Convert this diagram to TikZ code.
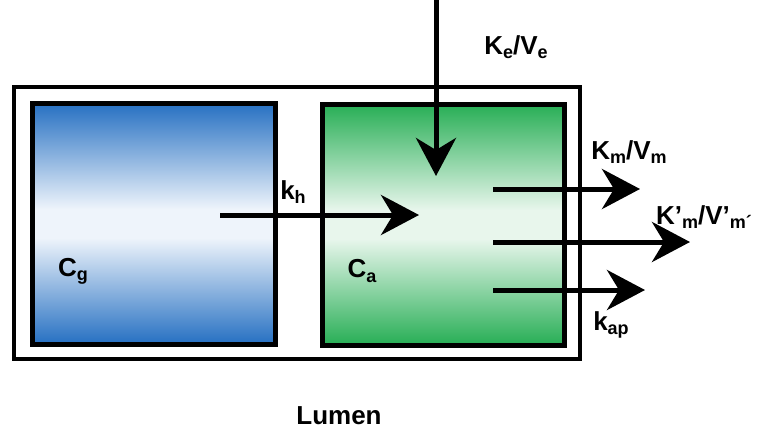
\documentclass[tikz,border=0pt]{standalone}
\usepackage{fontspec}
\setmainfont{Liberation Sans}
\usetikzlibrary{arrows.meta}
\definecolor{bdark}{HTML}{2670C2}
\definecolor{blight}{HTML}{EEF4FB}
\definecolor{gdark}{HTML}{27AE55}
\definecolor{glight}{HTML}{E8F6EC}
\pgfdeclareverticalshading{blueband}{100bp}{color(0bp)=(bdark); color(25bp)=(bdark); color(47bp)=(blight); color(53bp)=(blight); color(75bp)=(bdark); color(100bp)=(bdark)}
\pgfdeclareverticalshading{greenband}{100bp}{color(0bp)=(gdark); color(25bp)=(gdark); color(47bp)=(glight); color(53bp)=(glight); color(75bp)=(gdark); color(100bp)=(gdark)}
\tikzset{
  frame/.style={draw=black,line width=4pt},
  comp/.style={draw=black,line width=5pt},
  flow/.style={line width=5pt,-{Stealth[length=38pt,width=40pt,inset=12pt]}},
  lbl/.style={font=\bfseries\fontsize{26}{30}\selectfont,inner sep=0pt},
}
\newcommand{\sbx}[1]{\raisebox{-0.3ex}{\fontsize{18}{20}\selectfont #1}}
\begin{document}
\begin{tikzpicture}[x=1pt,y=-1pt]
\useasboundingbox (0,0) rectangle (767,434);
\draw[frame] (14,87) rectangle (580,359);
\shade[shading=blueband] (32,103) rectangle (275,344);
\draw[comp] (32,103) rectangle (275,344);
\shade[shading=greenband] (322,104) rectangle (564,345);
\draw[comp] (322,104) rectangle (564,345);
% coordinates
\coordinate (eS) at (436,0);
\coordinate (eT) at (436,176);
\coordinate (hS) at (220,215);
\coordinate (hT) at (419,215);
\coordinate (mS) at (493,189);
\coordinate (mT) at (640,189);
\coordinate (pS) at (493,242);
\coordinate (pT) at (690,242);
\coordinate (aS) at (493,290);
\coordinate (aT) at (645,290);
\draw[flow] (eS) -- (eT);
\draw[flow] (hS) -- (hT);
\draw[flow] (mS) -- (mT);
\draw[flow] (pS) -- (pT);
\draw[flow] (aS) -- (aT);
% labels
\node[lbl] (ke) at (516,47) {K\sbx{e}/V\sbx{e}};
\node[lbl] (km) at (629,152) {K\sbx{m}/V\sbx{m}};
\node[lbl] (kpm) at (704,217) {K’\sbx{m}/V’\sbx{m´}};
\node[lbl] (kap) at (611,325) {k\sbx{ap}};
\node[lbl] (kh) at (293,192) {k\sbx{h}};
\node[lbl] (cg) at (73,271) {C\sbx{g}};
\node[lbl] (ca) at (362,271) {C\sbx{a}};
\node[lbl] (lumen) at (339,416) {Lumen};
\end{tikzpicture}
\end{document}
